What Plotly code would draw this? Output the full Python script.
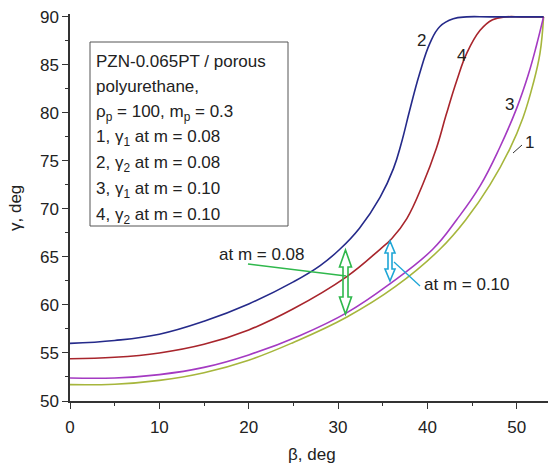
import plotly.graph_objects as go

# ---- data ----
beta1 = [0, 5, 10, 15, 20, 25, 31.0, 36.4, 41.4, 44.4, 47.0, 49.2, 50.7, 51.8, 52.6, 53.0]
gamma1 = [51.7, 51.75, 52.15, 52.95, 54.25, 56.1, 58.75, 61.9, 65.8, 69.0, 72.5, 76.2, 79.5, 82.9, 86.2, 90.0]

beta2 = [0, 5, 10, 15, 20, 25, 28, 30.2, 32.4, 34.7, 36.2, 37.1, 38.0, 39.1, 40.3, 41.4, 42.9, 44.4, 47.0, 53.0]
gamma2 = [56.0, 56.3, 56.95, 58.3, 60.1, 62.4, 64.1, 65.8, 68.0, 71.2, 74.2, 76.9, 80.2, 84.0, 87.3, 89.0, 89.8, 90.0, 90.0, 90.0]

beta3 = [0, 5, 10, 15, 20, 25.7, 31.0, 35.8, 40.6, 43.3, 45.9, 48.1, 50.0, 51.3, 52.2, 53.0]
gamma3 = [52.4, 52.4, 52.75, 53.5, 54.8, 56.8, 59.2, 62.2, 65.8, 68.9, 72.4, 76.4, 80.5, 84.0, 87.0, 90.0]

beta4 = [0, 5, 10, 15, 20, 25, 30.9, 34.7, 36.0, 37.7, 39.5, 41.0, 42.1, 43.3, 44.4, 45.9, 47.3, 48.8, 50.5, 53.0]
gamma4 = [54.4, 54.55, 55.0, 55.9, 57.4, 59.6, 62.9, 65.8, 66.9, 69.0, 72.6, 76.3, 79.8, 83.4, 86.2, 88.6, 89.7, 90.0, 90.0, 90.0]

x_ticks = [0, 10, 20, 30, 40, 50]
y_ticks = [50, 55, 60, 65, 70, 75, 80, 85, 90]

legend_lines = [
    "PZN-0.065PT / porous",
    "polyurethane,",
    "ρ<sub>p</sub> = 100, m<sub>p</sub> = 0.3",
    "1, γ<sub>1</sub> at m = 0.08",
    "2, γ<sub>2</sub> at m = 0.08",
    "3, γ<sub>1</sub> at m = 0.10",
    "4, γ<sub>2</sub> at m = 0.10",
]

# ---- styles ----
FONT = "Liberation Sans, Arial, sans-serif"
TXT = "#222222"
C1, C2, C3, C4 = "#a6b63c", "#252a8a", "#a43ac2", "#a8252c"
GREEN, CYAN = "#2fb84c", "#1ea6d6"

W, H = 550, 472
ML, MR, MT, MB = 70, 2, 14, 71
XR = [0, 53.5]
YR = [50, 90.3]
PW, PH = W - ML - MR, H - MT - MB


def px2x(px):
    return XR[0] + (px - ML) / PW * (XR[1] - XR[0])


def py2y(py):
    return YR[1] - (py - MT) / PH * (YR[1] - YR[0])


def px2p(px):
    return (px - ML) / PW


def py2p(py):
    return (H - MB - py) / PH


fig = go.Figure()
for b, g, c in [(beta1, gamma1, C1), (beta3, gamma3, C3), (beta4, gamma4, C4), (beta2, gamma2, C2)]:
    fig.add_trace(go.Scatter(x=b, y=g, mode="lines",
                             line=dict(color=c, width=1.6, shape="spline", smoothing=1.2),
                             showlegend=False, hoverinfo="skip"))

axis_common = dict(showline=True, linecolor="#333333", linewidth=1.5, mirror=False,
                   showgrid=False, zeroline=False, ticks="outside", ticklen=6,
                   tickwidth=1.3, tickcolor="#333333",
                   tickfont=dict(family=FONT, size=17, color=TXT))

fig.update_xaxes(range=XR, tickvals=x_ticks, ticklabelstandoff=4,
                 minor=dict(dtick=5, ticks="outside", ticklen=3, tickwidth=1.2, tickcolor="#333333"),
                 **axis_common)
fig.update_yaxes(range=YR, tickvals=y_ticks,
                 minor=dict(dtick=2.5, ticks="outside", ticklen=3, tickwidth=1.2, tickcolor="#333333"),
                 **axis_common)

shapes = []
annotations = []

# legend box
shapes.append(dict(type="rect", xref="x", yref="y",
                   x0=px2x(90), x1=px2x(288), y0=py2y(226), y1=py2y(42),
                   line=dict(color="#555555", width=1), fillcolor="rgba(0,0,0,0)"))
for i, t in enumerate(legend_lines):
    annotations.append(dict(x=px2x(94), y=py2y(61 + 25.8 * i), xref="x", yref="y",
                            text=t, showarrow=False, xanchor="left", yanchor="middle",
                            font=dict(family=FONT, size=17, color=TXT)))


def hollow_arrow(cx, top, bot, hw, sw, hl, color):
    pts = [(cx, top), (cx + hw, top - hl), (cx + sw, top - hl), (cx + sw, bot + hl),
           (cx + hw, bot + hl), (cx, bot), (cx - hw, bot + hl), (cx - sw, bot + hl),
           (cx - sw, top - hl), (cx - hw, top - hl)]
    path = "M " + " L ".join(f"{x},{y}" for x, y in pts) + " Z"
    return dict(type="path", xref="x", yref="y", path=path,
                line=dict(color=color, width=1.6), fillcolor="rgba(0,0,0,0)")


# green (m = 0.08) arrow and leader
shapes.append(hollow_arrow(px2x(345.5), py2y(250), py2y(314), px2x(70 + 6) - px2x(70),
                           px2x(70 + 2.5) - px2x(70), py2y(0) - py2y(17), GREEN))
shapes.append(dict(type="line", xref="x", yref="y", x0=px2x(248), y0=py2y(264),
                   x1=px2x(346), y1=py2y(276), line=dict(color=GREEN, width=1.3)))
annotations.append(dict(x=px2x(261.5), y=py2y(254), xref="x", yref="y", text="at m = 0.08",
                        showarrow=False, xanchor="center", yanchor="middle",
                        font=dict(family=FONT, size=17, color=TXT)))

# cyan (m = 0.10) arrow and leader
shapes.append(hollow_arrow(px2x(390), py2y(241), py2y(281), px2x(70 + 5) - px2x(70),
                           px2x(70 + 2) - px2x(70), py2y(0) - py2y(12), CYAN))
shapes.append(dict(type="line", xref="x", yref="y", x0=px2x(394), y0=py2y(262),
                   x1=px2x(420), y1=py2y(286), line=dict(color=CYAN, width=1.3)))
annotations.append(dict(x=px2x(422), y=py2y(284), xref="x", yref="y", text="at m = 0.10",
                        showarrow=False, xanchor="left", yanchor="middle",
                        font=dict(family=FONT, size=17, color=TXT)))

# curve labels
for t, (lx, ly) in zip(["2", "4", "3", "1"], [(421, 40), (461, 55), (509, 104), (529, 142)]):
    annotations.append(dict(x=px2x(lx), y=py2y(ly), xref="x", yref="y", text=t,
                            showarrow=False, xanchor="center", yanchor="middle",
                            font=dict(family=FONT, size=17, color=TXT)))
shapes.append(dict(type="line", xref="x", yref="y", x0=px2x(513), y0=py2y(153),
                   x1=px2x(522), y1=py2y(145), line=dict(color="#333333", width=1)))

# axis titles (paper coordinates so they are not clipped)
annotations.append(dict(x=px2p(312), y=py2p(454), xref="paper", yref="paper", text="β, deg",
                        showarrow=False, xanchor="center", yanchor="middle",
                        font=dict(family=FONT, size=17, color=TXT)))
annotations.append(dict(x=px2p(16), y=py2p(208), xref="paper", yref="paper", text="γ, deg",
                        showarrow=False, xanchor="center", yanchor="middle", textangle=-90,
                        font=dict(family=FONT, size=17, color=TXT)))

fig.update_layout(width=W, height=H, margin=dict(l=ML, r=MR, t=MT, b=MB),
                  paper_bgcolor="white", plot_bgcolor="white",
                  shapes=shapes, annotations=annotations, showlegend=False)

fig.write_html("out.html", config={"displayModeBar": False},
               post_script="document.body.style.margin='0';")
